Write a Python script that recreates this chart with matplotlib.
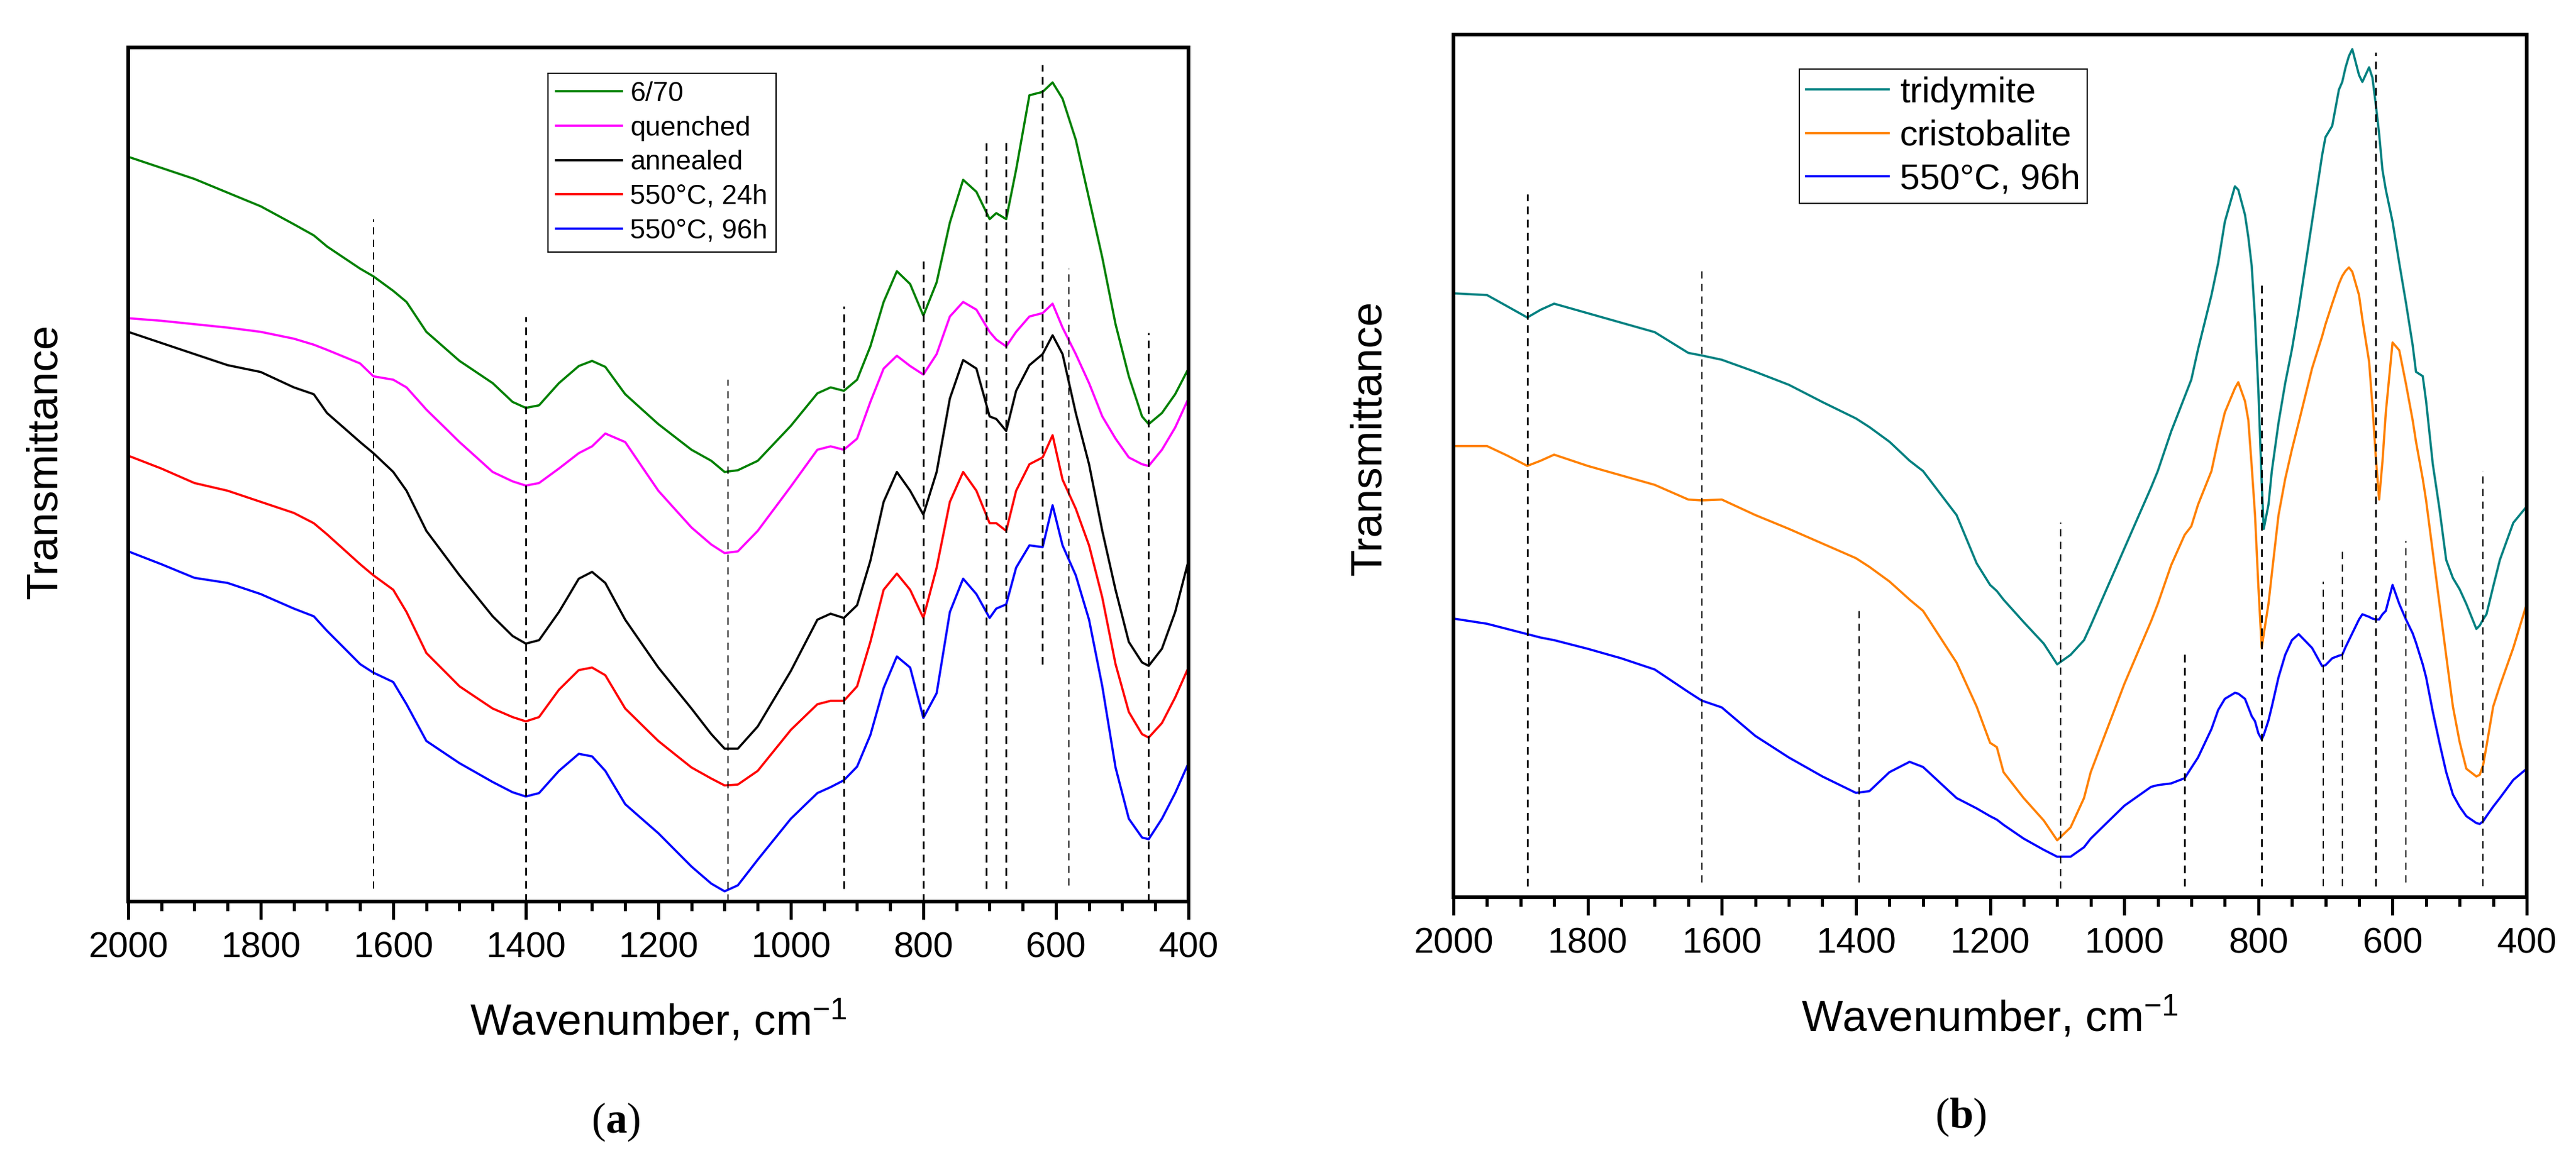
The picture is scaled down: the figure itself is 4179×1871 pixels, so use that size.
"""FTIR transmittance spectra, panels (a) and (b)."""

import matplotlib
matplotlib.use("Agg")
import matplotlib.pyplot as plt
from matplotlib.ticker import MultipleLocator

plt.rcParams["font.family"] = ["Liberation Sans", "DejaVu Sans"]
plt.rcParams["mathtext.fontset"] = "custom"
plt.rcParams["mathtext.rm"] = "Liberation Sans"
plt.rcParams["mathtext.it"] = "Liberation Sans:italic"
plt.rcParams["mathtext.bf"] = "Liberation Serif:bold"

# ---- panel (a) data (wavenumber, arbitrary transmittance 0..100) ----
wn_a = [2000, 1950, 1900, 1850, 1800, 1750, 1720, 1700, 1650, 1630, 1600, 1580,
        1550, 1500, 1450, 1420, 1400, 1380, 1350, 1320, 1300, 1280, 1250, 1200,
        1150, 1120, 1100, 1080, 1050, 1000, 960, 940, 920, 900, 880, 860, 840,
        820, 800, 780, 760, 740, 720, 700, 690, 675, 660, 640, 620, 605, 590,
        570, 550, 530, 510, 490, 470, 460, 440, 420, 400]

green_a = [87.2, 85.9, 84.6, 83.0, 81.4, 79.3, 78.0, 76.7, 74.1, 73.2, 71.5, 70.2,
           66.7, 63.3, 60.7, 58.5, 57.8, 58.1, 60.7, 62.7, 63.3, 62.6, 59.4, 55.9,
           52.9, 51.6, 50.3, 50.5, 51.6, 55.7, 59.5, 60.2, 59.8, 61.1, 65.0, 70.2, 73.8,
           72.3, 68.6, 72.5, 79.5, 84.5, 83.1, 79.9, 80.6, 79.9, 85.7, 94.4, 94.8, 95.9, 94.0,
           89.2, 82.3, 75.4, 67.6, 61.5, 56.8, 55.9, 57.2, 59.4, 62.4]

magenta_a = [68.3, 68.0, 67.6, 67.2, 66.7, 65.9, 65.2, 64.6, 63.0, 61.5, 61.1, 60.2,
             57.6, 53.8, 50.3, 49.2, 48.7, 49.0, 50.7, 52.5, 53.3, 54.8, 53.8, 48.1,
             43.8, 41.8, 40.8, 41.0, 43.4, 48.6, 52.9, 53.3, 52.9, 54.2, 58.5, 62.4, 63.9,
             62.7, 61.7, 64.1, 68.5, 70.2, 69.3, 66.7, 65.8, 65.0, 66.7, 68.5, 68.9, 70.0, 67.2,
             64.1, 60.7, 56.8, 54.2, 52.0, 51.2, 51.0, 52.9, 55.5, 58.9]

black_a = [66.7, 65.4, 64.1, 62.8, 62.0, 60.2, 59.4, 57.2, 53.8, 52.5, 50.3, 48.1,
           43.4, 38.2, 33.4, 31.1, 30.2, 30.6, 33.9, 37.8, 38.6, 37.3, 33.0, 27.4,
           22.6, 19.6, 17.9, 17.9, 20.5, 27.0, 33.0, 33.7, 33.2, 34.7, 39.9, 46.8, 50.3,
           48.1, 45.3, 50.3, 58.9, 63.4, 62.4, 56.8, 56.5, 55.1, 59.8, 62.8, 64.1, 66.3, 64.1,
           57.2, 51.2, 43.4, 36.5, 30.4, 28.0, 27.6, 29.6, 33.9, 39.9]

red_a = [52.2, 50.7, 49.0, 48.1, 46.8, 45.5, 44.3, 43.0, 39.5, 38.2, 36.5, 33.9,
         29.1, 25.2, 22.6, 21.6, 21.1, 21.6, 24.8, 27.1, 27.4, 26.5, 22.6, 18.8,
         15.7, 14.4, 13.6, 13.7, 15.3, 20.1, 23.1, 23.5, 23.5, 25.2, 30.4, 36.5, 38.4,
         36.5, 33.2, 39.1, 46.8, 50.3, 48.1, 44.3, 44.3, 43.4, 48.1, 51.2, 52.0, 54.6, 49.4,
         46.0, 41.7, 35.6, 27.8, 22.2, 19.6, 19.2, 20.9, 23.9, 27.4]

blue_a = [41.0, 39.5, 37.9, 37.3, 36.0, 34.3, 33.4, 31.7, 27.8, 26.8, 25.7, 23.1,
          18.8, 16.2, 14.0, 12.8, 12.3, 12.7, 15.3, 17.3, 17.0, 15.3, 11.4, 8.0,
          4.1, 2.1, 1.2, 1.9, 4.9, 9.7, 12.7, 13.4, 14.2, 15.8, 19.5, 25.0, 28.7,
          27.4, 21.5, 24.4, 33.9, 37.8, 36.0, 33.2, 34.3, 34.8, 39.1, 41.7, 41.5, 46.4, 41.7,
          38.2, 33.0, 25.2, 15.7, 9.7, 7.5, 7.3, 9.7, 12.7, 16.2]

labels_a = ["6/70", "quenched", "annealed", "550°C, 24h", "550°C, 96h"]
colors_a = ["#008000", "#ff00ff", "#000000", "#ff0000", "#0000ff"]

# band markers (a): position, lower end, upper end
bands_a = [1630, 1400, 1095, 920, 800, 705, 675, 620, 580, 460]
band_lo_a = [1.5, 0.0, 0.0, 1.5, 0.0, 1.5, 1.5, 27.8, 1.9, 0.0]
band_hi_a = [79.9, 68.5, 61.1, 69.7, 75.4, 88.8, 89.4, 98.0, 74.1, 66.6]
band_bold_a = [False, True, False, True, True, True, True, True, False, True]

# ---- panel (b) data ----
wn_b = [2000, 1950, 1920, 1890, 1870, 1850, 1800, 1750, 1700, 1650, 1630, 1600,
        1550, 1500, 1450, 1400, 1380, 1350, 1320, 1300, 1250, 1220, 1200, 1190,
        1180, 1150, 1120, 1100, 1080, 1060, 1050, 1000, 960, 950, 930, 910, 900,
        890, 870, 860, 850, 835, 830, 820, 815, 810, 805, 800, 795, 792, 785, 780, 770,
        760, 750, 740, 720, 705, 700, 690, 680, 675, 670, 665, 660, 650, 645, 635, 630,
        625, 620, 615, 610, 600, 590, 580, 570, 565, 555, 550, 540, 530, 520, 510,
        500, 490, 475, 470, 465, 460, 450, 440, 420, 400]

teal_b = [70.0, 69.8, 68.5, 67.2, 68.1, 68.8, 67.7, 66.6, 65.5, 63.1, 62.8, 62.3,
          60.9, 59.4, 57.4, 55.5, 54.5, 52.8, 50.6, 49.4, 44.3, 38.7, 36.2, 35.5,
          34.5, 31.9, 29.4, 27.0, 28.1, 29.8, 31.5, 40.4, 47.5, 49.4, 54.0, 58.0, 60.0,
          63.5, 69.8, 73.5, 78.3, 82.4, 82.0, 79.1, 76.5, 73.2, 67.0, 58.7, 48.0, 42.7, 45.5, 49.4, 55.0,
          59.6, 63.5, 68.1, 78.3, 86.0, 88.1, 89.4, 93.6, 94.5, 96.2, 97.5, 98.3, 95.3, 94.5, 96.2, 95.0,
          91.9, 88.5, 84.3, 82.0, 78.3, 73.5, 68.9, 64.0, 60.9, 60.4, 57.5, 50.2, 45.0, 39.1, 37.0,
          35.7, 34.0, 31.1, 31.5, 32.2, 32.8, 36.0, 39.1, 43.4, 45.3]

orange_b = [52.3, 52.3, 51.2, 50.0, 50.6, 51.3, 50.0, 48.9, 47.8, 46.1, 46.0, 46.1,
            44.3, 42.7, 41.0, 39.3, 38.3, 36.6, 34.5, 33.2, 27.2, 22.1, 17.9, 17.4,
            14.5, 11.5, 8.9, 6.6, 8.1, 11.5, 14.5, 24.7, 32.0, 34.0, 38.5, 42.0, 43.0,
            45.5, 49.4, 53.0, 56.2, 59.0, 59.7, 57.5, 55.3, 50.0, 44.3, 36.0, 28.9, 30.5, 34.0, 37.5, 44.3,
            48.5, 51.9, 55.0, 61.3, 65.0, 66.4, 68.8, 71.1, 72.0, 72.6, 73.0, 72.5, 69.8, 67.0, 62.1, 57.0,
            51.1, 46.1, 50.5, 56.2, 64.3, 63.4, 59.5, 55.3, 52.8, 48.5, 46.0, 40.0, 34.0, 28.0, 22.1,
            18.0, 14.9, 14.0, 14.2, 15.3, 17.5, 22.1, 24.5, 28.9, 34.0]

blue_b = [32.3, 31.7, 31.1, 30.5, 30.1, 29.8, 28.8, 27.7, 26.4, 23.8, 22.8, 22.0,
          18.7, 16.2, 14.0, 12.1, 12.3, 14.5, 15.7, 15.1, 11.5, 10.3, 9.4, 9.0,
          8.4, 6.8, 5.5, 4.7, 4.7, 5.8, 6.8, 10.6, 12.8, 13.0, 13.2, 13.8, 15.0,
          16.2, 19.5, 21.7, 23.0, 23.7, 23.6, 23.0, 22.0, 21.0, 20.4, 19.0, 18.3, 18.8, 20.5, 22.1, 25.5,
          28.1, 29.8, 30.5, 28.9, 26.8, 26.9, 27.7, 28.0, 28.1, 29.0, 29.8, 30.6, 32.2, 32.8, 32.5, 32.3,
          32.2, 32.2, 32.8, 33.2, 36.2, 34.0, 32.2, 30.6, 29.5, 27.0, 25.5, 21.5, 17.9, 14.5, 11.9,
          10.5, 9.4, 8.6, 8.5, 8.8, 9.4, 10.5, 11.5, 13.6, 14.9]

labels_b = ["tridymite", "cristobalite", "550°C, 96h"]
colors_b = ["#008080", "#ff8000", "#0000ff"]

bands_b = [1890, 1630, 1395, 1095, 910, 795, 703, 675, 625, 580, 465]
band_lo_b = [1.3, 1.7, 1.7, 1.0, 1.3, 1.3, 1.3, 1.3, 1.3, 1.7, 1.3]
band_hi_b = [81.5, 72.8, 33.6, 43.4, 28.5, 71.1, 36.6, 40.2, 97.9, 41.3, 49.4]
band_bold_b = [True, False, False, False, True, True, False, False, True, False, False]


def style_axis(ax):
    ax.set_xlim(2000, 400)
    ax.set_ylim(0, 100)
    ax.xaxis.set_major_locator(MultipleLocator(200))
    ax.xaxis.set_minor_locator(MultipleLocator(50))
    ax.set_yticks([])
    ax.tick_params(axis="x", which="major", direction="out", length=21, width=3.6,
                   labelsize=42, pad=14)
    ax.tick_params(axis="x", which="minor", direction="out", length=10.5, width=3.6)
    for sp in ax.spines.values():
        sp.set_linewidth(4.3)


def draw_bands(ax, pos, lo, hi, bold):
    for x, y0, y1, b in zip(pos, lo, hi, bold):
        if b:
            ax.plot([x, x], [y0, y1], color="black", lw=2.0, dashes=(4.5, 3.2), zorder=5)
        else:
            ax.plot([x, x], [y0, y1], color="black", lw=1.4, dashes=(6, 4.5), zorder=5)


fig = plt.figure(figsize=(41.79, 18.71), dpi=100)
ax_a = fig.add_axes([0.04977, 0.21807, 0.41158, 0.74078])
ax_b = fig.add_axes([0.56425, 0.22180, 0.41661, 0.74827])

for ys, lab, col in zip([green_a, magenta_a, black_a, red_a, blue_a], labels_a, colors_a):
    ax_a.plot(wn_a, ys, color=col, lw=2.6, label=lab)
draw_bands(ax_a, bands_a, band_lo_a, band_hi_a, band_bold_a)
style_axis(ax_a)
leg = ax_a.legend(loc="upper left", bbox_to_anchor=(0.396, 0.970), borderaxespad=0,
                  fontsize=32, handlelength=2.4, handletextpad=0.3, borderpad=0.3,
                  labelspacing=0.33, fancybox=False, framealpha=1, edgecolor="black")
leg.get_frame().set_linewidth(1.5)

for ys, lab, col in zip([teal_b, orange_b, blue_b], labels_b, colors_b):
    ax_b.plot(wn_b, ys, color=col, lw=2.6, label=lab)
draw_bands(ax_b, bands_b, band_lo_b, band_hi_b, band_bold_b)
style_axis(ax_b)
leg = ax_b.legend(loc="upper left", bbox_to_anchor=(0.322, 0.960), borderaxespad=0,
                  fontsize=42, handlelength=2.3, handletextpad=0.3, borderpad=0.2,
                  labelspacing=0.28, fancybox=False, framealpha=1, edgecolor="black")
leg.get_frame().set_linewidth(1.5)

for ax, xl_y, yl_x, yl_y in [(ax_a, -0.141, -0.078, 0.515), (ax_b, -0.140, -0.078, 0.532)]:
    ax.set_xlabel(r"Wavenumber, cm$^{-1}$", fontsize=51)
    ax.xaxis.set_label_coords(0.5, xl_y)
    ax.xaxis.label.set_va("center")
    ax.set_ylabel("Transmittance", fontsize=51)
    ax.yaxis.set_label_coords(yl_x, yl_y)
    ax.yaxis.label.set_va("center")

fig.text(999 / 4179, 1 - 1821 / 1871, r"($\mathbf{a}$)", family="Liberation Serif",
         fontsize=50, ha="center", va="center")
fig.text(3181 / 4179, 1 - 1813 / 1871, r"($\mathbf{b}$)", family="Liberation Serif",
         fontsize=50, ha="center", va="center")

fig.savefig("out.png", dpi=100)
plt.close(fig)
